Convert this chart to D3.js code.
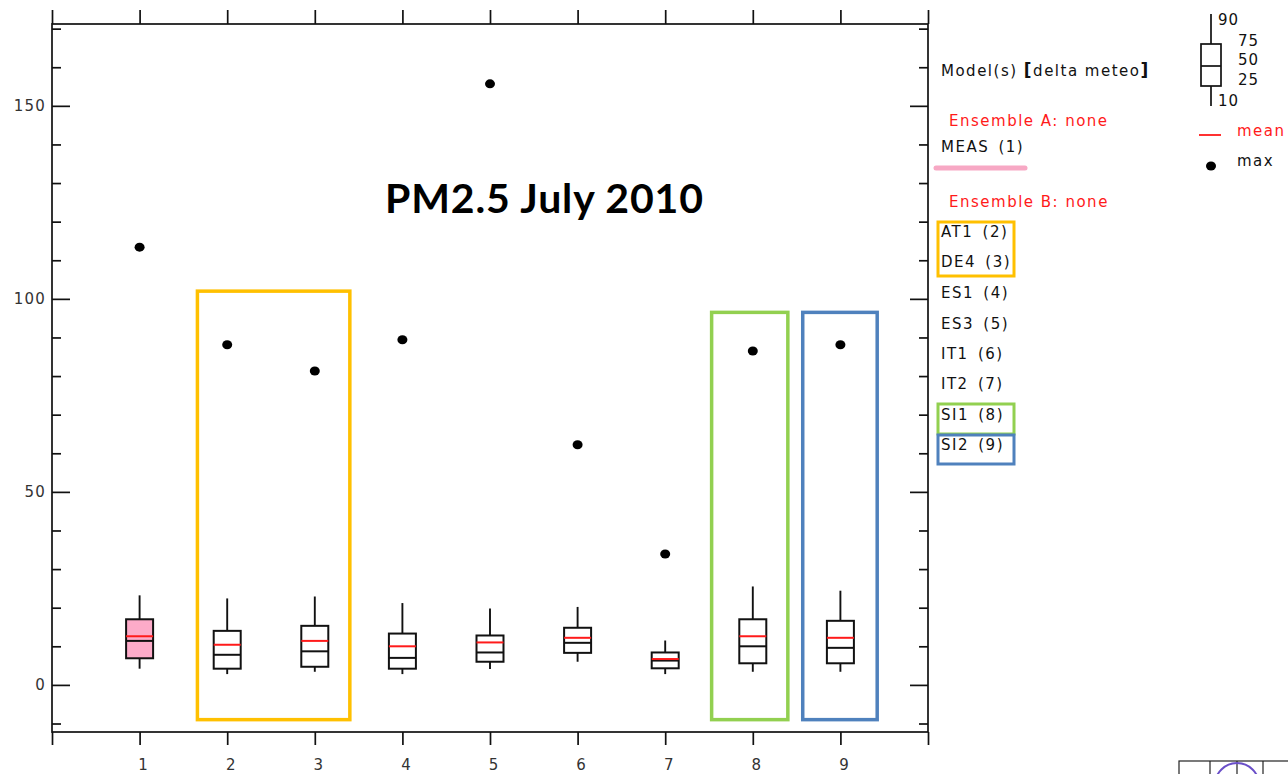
<!DOCTYPE html>
<html>
<head>
<meta charset="utf-8">
<script src="https://cdn.jsdelivr.net/npm/d3@7"></script>
<style>
  body { margin: 0; background: #fff; }
  svg { display: block; }
  text { font-family: "DejaVu Sans", sans-serif; }
</style>
</head>
<body>
<svg id="chart"></svg>
<script>
// data (PM2.5, July 2010)
let categories = [1, 2, 3, 4, 5, 6, 7, 8, 9];
let p10    = [4.2, 2.8, 3.4, 2.8, 4.1, 6.0, 2.8, 3.4, 3.4];
let p25    = [6.9, 4.2, 4.7, 4.2, 6.0, 8.3, 4.3, 5.6, 5.6];
let median = [11.4, 7.8, 8.7, 7.0, 8.4, 10.9, 6.3, 10.0, 9.6];
let mean   = [12.6, 10.4, 11.4, 10.0, 11.0, 12.2, 6.7, 12.6, 12.2];
let p75    = [17.0, 14.0, 15.3, 13.3, 12.8, 14.8, 8.4, 17.0, 16.6];
let p90    = [23.2, 22.4, 22.9, 21.2, 19.8, 20.2, 11.5, 25.5, 24.4];
let maxVal = [113.4, 88.1, 81.3, 89.4, 155.7, 62.2, 33.9, 86.5, 88.1];

let modelNames = ["MEAS (1)", "AT1 (2)", "DE4 (3)", "ES1 (4)", "ES3 (5)",
                  "IT1 (6)", "IT2 (7)", "SI1 (8)", "SI2 (9)"];
let yMajor = [0, 50, 100, 150];
let yMinor = [-10, 10, 20, 30, 40, 60, 70, 80, 90, 110, 120, 130, 140, 160, 170];
let xTicks = [0, 1, 2, 3, 4, 5, 6, 7, 8, 9, 10];
let boxLegendLabels = ["90", "75", "50", "25", "10"];

let svgWidth = 1288, svgHeight = 774;
let plotL = 52, plotR = 928, plotT = 24, plotB = 732;

let x = d3.scaleLinear().domain([0, 10]).range([plotL, plotR]);
let y = d3.scaleLinear().domain([-12.2, 171.2]).range([plotB, plotT]);

let svg = d3.select("#chart")
    .attr("width", svgWidth)
    .attr("height", svgHeight);

// axes
function cleanAxis(g) {
    g.select(".domain").remove();
    g.selectAll(".tick line").attr("stroke", "#111").attr("stroke-width", 1.7);
}

svg.append("g").attr("transform", "translate(" + plotL + ",0)")
    .call(d3.axisRight(y).tickValues(yMajor).tickSize(18).tickFormat(""))
    .call(cleanAxis);
svg.append("g").attr("transform", "translate(" + plotL + ",0)")
    .call(d3.axisRight(y).tickValues(yMinor).tickSize(9).tickFormat(""))
    .call(cleanAxis);
svg.append("g").attr("transform", "translate(" + plotR + ",0)")
    .call(d3.axisLeft(y).tickValues(yMajor).tickSize(18).tickFormat(""))
    .call(cleanAxis);
svg.append("g").attr("transform", "translate(" + plotR + ",0)")
    .call(d3.axisLeft(y).tickValues(yMinor).tickSize(9).tickFormat(""))
    .call(cleanAxis);

// y labels
svg.append("g").attr("transform", "translate(" + plotL + ",0)")
    .call(d3.axisLeft(y).tickValues(yMajor).tickSize(0).tickPadding(6))
    .call(g => g.select(".domain").remove())
    .selectAll("text")
    .attr("font-family", "DejaVu Sans")
    .attr("font-size", 15)
    .attr("letter-spacing", 1.2)
    .attr("fill", "#333");

svg.append("g").attr("transform", "translate(0," + plotB + ")")
    .call(d3.axisBottom(x).tickValues(xTicks).tickSize(13)
        .tickFormat(d => (d > 0 && d < 10) ? d : ""))
    .call(cleanAxis)
    .selectAll("text")
    .attr("y", 38)
    .attr("dy", 0)
    .attr("dx", 3)
    .attr("font-family", "DejaVu Sans")
    .attr("font-size", 15)
    .attr("fill", "#333");

svg.append("g").attr("transform", "translate(0," + plotT + ")")
    .call(d3.axisTop(x).tickValues(xTicks).tickSize(14).tickFormat(""))
    .call(cleanAxis);

// frame
svg.append("rect")
    .attr("x", plotL).attr("y", plotT)
    .attr("width", plotR - plotL).attr("height", plotB - plotT)
    .attr("fill", "none").attr("stroke", "#111").attr("stroke-width", 1.7);

// highlight boxes drawn on the slide
let hl = [
    {from: 1.66, to: 3.4, top: 102, color: "#FFC000"},
    {from: 7.53, to: 8.4, top: 96.5, color: "#92D050"},
    {from: 8.57, to: 9.42, top: 96.5, color: "#4F81BD"}
];
svg.selectAll(".hl").data(hl).enter().append("rect")
    .attr("class", "hl")
    .attr("x", d => x(d.from))
    .attr("y", d => y(d.top))
    .attr("width", d => x(d.to) - x(d.from))
    .attr("height", d => y(-9) - y(d.top))
    .attr("fill", "none")
    .attr("stroke", d => d.color)
    .attr("stroke-width", 3.5);

// boxplots
let bw = 27;
let boxes = svg.selectAll(".box")
    .data(categories)
    .enter()
    .append("g")
    .attr("class", "box");

boxes.append("line")
    .attr("x1", d => x(d)).attr("x2", d => x(d))
    .attr("y1", (d, i) => y(p90[i])).attr("y2", (d, i) => y(p75[i]))
    .attr("stroke", "#111").attr("stroke-width", 1.9);
boxes.append("line")
    .attr("x1", d => x(d)).attr("x2", d => x(d))
    .attr("y1", (d, i) => y(p25[i])).attr("y2", (d, i) => y(p10[i]))
    .attr("stroke", "#111").attr("stroke-width", 1.9);
boxes.append("rect")
    .attr("x", d => x(d) - bw / 2)
    .attr("y", (d, i) => y(p75[i]))
    .attr("width", bw)
    .attr("height", (d, i) => y(p25[i]) - y(p75[i]))
    .attr("fill", (d, i) => i == 0 ? "#fdabc9" : "#fff")
    .attr("stroke", "#111").attr("stroke-width", 2);
boxes.append("line")
    .attr("x1", d => x(d) - bw / 2).attr("x2", d => x(d) + bw / 2)
    .attr("y1", (d, i) => y(median[i])).attr("y2", (d, i) => y(median[i]))
    .attr("stroke", "#111").attr("stroke-width", 2);
boxes.append("line")
    .attr("x1", d => x(d) - bw / 2).attr("x2", d => x(d) + bw / 2)
    .attr("y1", (d, i) => y(mean[i])).attr("y2", (d, i) => y(mean[i]))
    .attr("stroke", "#ff1a1a").attr("stroke-width", 2);
boxes.append("ellipse")
    .attr("cx", d => x(d))
    .attr("cy", (d, i) => y(maxVal[i]))
    .attr("rx", 5).attr("ry", 4.5)
    .attr("fill", "#000");

// title
svg.append("text")
    .text("PM2.5 July 2010")
    .attr("x", 544).attr("y", 213)
    .attr("text-anchor", "middle")
    .attr("font-weight", "bold")
    .attr("font-size", 41)
    .attr("textLength", 318)
    .attr("lengthAdjust", "spacing")
    .style("font-family", "Lato, sans-serif")
    .attr("fill", "#000");

// legend text
let lg = svg.append("g").attr("font-size", 15).attr("letter-spacing", 1.5);
let modelTitle = lg.append("text").attr("x", 941).attr("y", 76).attr("fill", "#111");
modelTitle.append("tspan").text("Model(s) ");
modelTitle.append("tspan").attr("font-weight", "bold").attr("font-size", 17).text("[");
modelTitle.append("tspan").text("delta meteo");
modelTitle.append("tspan").attr("font-weight", "bold").attr("font-size", 17).text("]");
lg.append("text").attr("x", 949).attr("y", 126).attr("fill", "#ff1a1a")
    .text("Ensemble A: none");
lg.append("text").attr("x", 949).attr("y", 207).attr("fill", "#ff1a1a")
    .text("Ensemble B: none");

let nameY = [152, 237, 267, 298, 329, 359, 389, 420, 450];
lg.selectAll(".name").data(modelNames).enter().append("text")
    .attr("class", "name")
    .attr("x", 941)
    .attr("y", (d, i) => nameY[i])
    .attr("fill", "#111")
    .attr("word-spacing", 3)
    .text(d => d);

// slide annotations around legend
svg.append("line")
    .attr("x1", 936).attr("x2", 1025).attr("y1", 168).attr("y2", 168)
    .attr("stroke", "#f7a8c4").attr("stroke-width", 5)
    .attr("stroke-linecap", "round");
let lgBoxes = [
    {y0: 222, y1: 276, color: "#FFC000"},
    {y0: 404, y1: 434, color: "#92D050"},
    {y0: 435, y1: 464, color: "#4F81BD"}
];
svg.selectAll(".lgbox").data(lgBoxes).enter().append("rect")
    .attr("x", 938).attr("y", d => d.y0)
    .attr("width", 76).attr("height", d => d.y1 - d.y0)
    .attr("fill", "none")
    .attr("stroke", d => d.color)
    .attr("stroke-width", 3);

// box legend (top right)
let kx = 1211, kw = 20;
let kY = [14, 44, 66, 86, 106];
let key = svg.append("g");
key.append("line").attr("x1", kx).attr("x2", kx).attr("y1", kY[0]).attr("y2", kY[1])
    .attr("stroke", "#111").attr("stroke-width", 1.7);
key.append("line").attr("x1", kx).attr("x2", kx).attr("y1", kY[3]).attr("y2", kY[4])
    .attr("stroke", "#111").attr("stroke-width", 1.7);
key.append("rect").attr("x", kx - kw / 2).attr("y", kY[1])
    .attr("width", kw).attr("height", kY[3] - kY[1])
    .attr("fill", "none").attr("stroke", "#111").attr("stroke-width", 1.7);
key.append("line").attr("x1", kx - kw / 2).attr("x2", kx + kw / 2)
    .attr("y1", kY[2]).attr("y2", kY[2])
    .attr("stroke", "#111").attr("stroke-width", 1.7);
let kLabelX = [1218, 1238, 1238, 1238, 1218];
let kLabelY = [25, 46, 65, 85, 106];
key.selectAll(".kl").data(boxLegendLabels).enter().append("text")
    .attr("x", (d, i) => kLabelX[i])
    .attr("y", (d, i) => kLabelY[i])
    .attr("font-size", 15)
    .attr("letter-spacing", 1)
    .attr("fill", "#111")
    .text(d => d);
key.append("line").attr("x1", 1199).attr("x2", 1221).attr("y1", 135).attr("y2", 135)
    .attr("stroke", "#ff1a1a").attr("stroke-width", 1.8);
key.append("text").attr("x", 1237).attr("y", 136).attr("font-size", 15)
    .attr("letter-spacing", 1.5)
    .attr("fill", "#ff1a1a").text("mean");
key.append("ellipse").attr("cx", 1211).attr("cy", 166).attr("rx", 5).attr("ry", 4.5)
    .attr("fill", "#000");
key.append("text").attr("x", 1237).attr("y", 166).attr("font-size", 15)
    .attr("letter-spacing", 1.5)
    .attr("fill", "#111").text("max");

// cut-off logo in bottom right corner
let logo = svg.append("g");
logo.append("rect").attr("x", 1179).attr("y", 761).attr("width", 120).attr("height", 30)
    .attr("fill", "none").attr("stroke", "#222").attr("stroke-width", 1.2);
[1210, 1237, 1263].forEach(function(px) {
    logo.append("line").attr("x1", px).attr("x2", px).attr("y1", 761).attr("y2", 774)
        .attr("stroke", "#222").attr("stroke-width", 1.2);
});
logo.append("circle").attr("cx", 1237).attr("cy", 785).attr("r", 22)
    .attr("fill", "none").attr("stroke", "#6a4fc8").attr("stroke-width", 2);
</script>
</body>
</html>
